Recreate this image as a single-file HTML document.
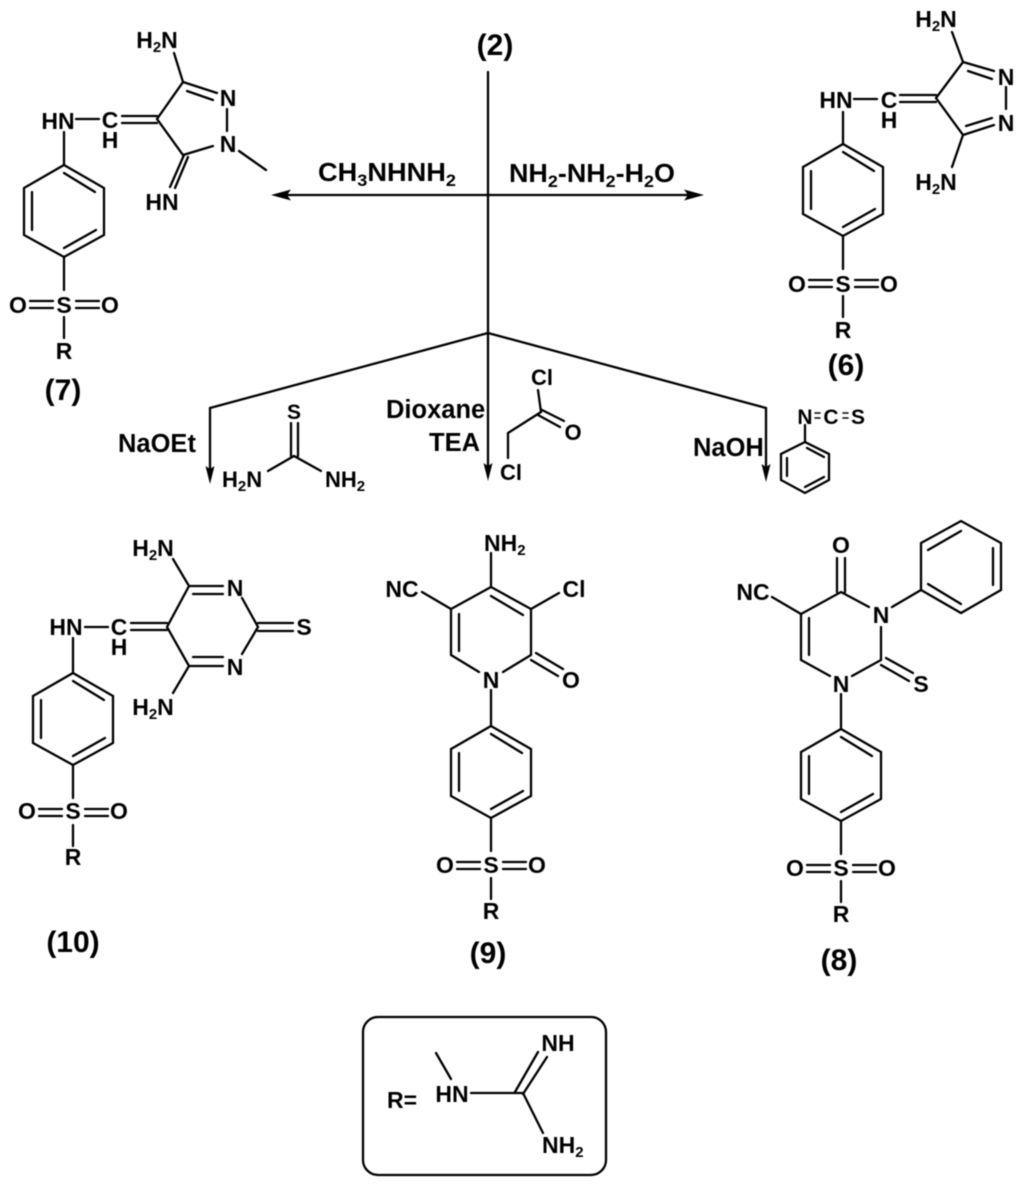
<!DOCTYPE html>
<html><head><meta charset="utf-8"><title>Reaction scheme</title>
<style>
html,body{margin:0;padding:0;background:#fff}
svg{display:block;filter:blur(0.4px)}
text{font-family:"Liberation Sans",sans-serif;font-weight:bold;fill:#000;font-size:23px}
.m{text-anchor:middle}
.l{font-size:25.500px}
.n{font-size:30px;text-anchor:middle}
.s{font-size:15px}
.t{font-size:21px}
.b{stroke:#000;stroke-width:2.300;fill:none;stroke-linecap:round;stroke-linejoin:miter}
</style></head><body>
<svg width="1024" height="1187" viewBox="0 0 1024 1187" xmlns="http://www.w3.org/2000/svg">
<defs>
<g id="tail" class="b">
<path d="M0 0L40 23V70L0 92L-40 70V23Z"/>
<path d="M0 8L31 27M-32 27V65M0 83L32 65"/>
<path d="M0 92V125M0 152V173"/>
<path d="M-34 136H-11M-34 143H-11M12 136H35M12 143H35"/>
</g>
</defs>

<!-- main arrows -->
<g class="b">
<path d="M488 72V470"/>
<path d="M285 195H690"/>
<path d="M488 333L210 408V470"/>
<path d="M488 333L766 408V468"/>
</g>
<g fill="#000">
<path d="M271 195L291 189.500L287 195L291 200.500Z"/>
<path d="M704 195L684 189.500L688 195L684 200.500Z"/>
<path d="M210 484L205.500 466L210 469L214.500 466Z"/>
<path d="M488 481L483.500 463L488 466L492.500 463Z"/>
<path d="M766 482L761.500 464L766 467L770.500 464Z"/>
</g>
<text class="n" x="495" y="55">(2)</text>
<text class="l" x="318" y="181" textLength="138" lengthAdjust="spacingAndGlyphs">CH<tspan font-size="17" dy="5">3</tspan><tspan dy="-5">NHNH</tspan><tspan font-size="17" dy="5">2</tspan></text>
<text class="l" x="509" y="182" textLength="166" lengthAdjust="spacingAndGlyphs">NH<tspan font-size="17" dy="5">2</tspan><tspan dy="-5">-NH</tspan><tspan font-size="17" dy="5">2</tspan><tspan dy="-5">-H</tspan><tspan font-size="17" dy="5">2</tspan><tspan dy="-5">O</tspan></text>
<text class="l" x="118" y="452">NaOEt</text>
<text class="l" x="386" y="418">Dioxane</text>
<text class="l" x="429" y="451">TEA</text>
<text class="l" x="693" y="456">NaOH</text>

<!-- compound 7 -->
<use href="#tail" x="64" y="165"/>
<g class="b">
<path d="M64 132V165M76 119H99M122 116H157M122 123H157"/>
<path d="M174 53L183 82L157 119L183 155L213 146M183 82L217 93M187 91L213 100M227 109V131"/>
<path d="M239 151L266 170M184 155L170 187M188 157L175 188"/>
</g>
<text class="m" x="157" y="48">H<tspan class="s" dy="4">2</tspan><tspan dy="-4">N</tspan></text>
<text class="m" x="228" y="106">N</text>
<text class="m" x="228" y="152">N</text>
<text class="m" x="162" y="210">HN</text>
<text class="m" x="58" y="129">HN</text>
<text class="m" x="110" y="128">C</text>
<text class="m" x="110" y="148">H</text>
<text class="m" x="64" y="313">S</text>
<text class="m" x="18" y="313">O</text>
<text class="m" x="110" y="313">O</text>
<text class="m" x="64" y="359">R</text>
<text class="n" x="63" y="400">(7)</text>

<!-- compound 6 -->
<use href="#tail" x="843" y="144"/>
<g class="b">
<path d="M843 112V144M854 99H877M900 95H936M900 102H936"/>
<path d="M952 32L963 62L936 98L963 135L952 167M963 62L994 71M968 71L992 79M963 135L994 125M966 126L992 118M1006 87V109"/>
</g>
<text class="m" x="936" y="27">H<tspan class="s" dy="4">2</tspan><tspan dy="-4">N</tspan></text>
<text class="m" x="936" y="190">H<tspan class="s" dy="4">2</tspan><tspan dy="-4">N</tspan></text>
<text class="m" x="1006" y="85">N</text>
<text class="m" x="1006" y="131">N</text>
<text class="m" x="836" y="108">HN</text>
<text class="m" x="889" y="108">C</text>
<text class="m" x="889" y="128">H</text>
<text class="m" x="843" y="292">S</text>
<text class="m" x="797" y="292">O</text>
<text class="m" x="889" y="292">O</text>
<text class="m" x="843" y="338">R</text>
<text class="n" x="846" y="375">(6)</text>

<!-- thiourea -->
<g class="b">
<path d="M291 423V456M298 423V456M268 471L294 456L321 471"/>
</g>
<text class="m t" x="294" y="419">S</text>
<text x="222" y="487" style="font-size:22px">H<tspan class="s" dy="4">2</tspan><tspan dy="-4">N</tspan></text>
<text x="325" y="487" style="font-size:22px">NH<tspan class="s" dy="4">2</tspan></text>

<!-- chloroacetyl chloride -->
<g class="b">
<path d="M538 390L541 412L508 433V458M542 410L564 421M538 415L560 427"/>
</g>
<text class="m" style="font-size:22px" x="542" y="385">Cl</text>
<text class="m" style="font-size:22px" x="573" y="440">O</text>
<text class="m" style="font-size:22px" x="511" y="480">Cl</text>

<!-- phenyl isothiocyanate -->
<g class="b">
<path d="M805 425V442L829 454V480L805 493L781 480V454L805 442M807 448L824 457M787 458V476M805 487L824 477"/>
<path stroke-width="1.500" d="M815 413H820M815 418H820M843 413H848M843 418H848"/>
</g>
<text class="m t" x="805" y="424">N</text>
<text class="m t" x="831" y="424">C</text>
<text class="m t" x="858" y="424">S</text>

<!-- compound 10 -->
<use href="#tail" x="73" y="673"/>
<g class="b">
<path d="M73 638V673M85 627H108M131 623H167M131 630H167"/>
<path d="M173 559L189 586L167 627L189 666L173 693M189 586H223M193 594H223M189 666H223M193 657H223"/>
<path d="M242 598L258 627L242 654M258 623H293M258 631H293"/>
</g>
<text class="m" x="153" y="556">H<tspan class="s" dy="4">2</tspan><tspan dy="-4">N</tspan></text>
<text class="m" x="153" y="715">H<tspan class="s" dy="4">2</tspan><tspan dy="-4">N</tspan></text>
<text class="m" x="235" y="596">N</text>
<text class="m" x="235" y="675">N</text>
<text class="m" x="304" y="635">S</text>
<text class="m" x="66" y="635">HN</text>
<text class="m" x="119" y="635">C</text>
<text class="m" x="119" y="655">H</text>
<text class="m" x="73" y="819">S</text>
<text class="m" x="27" y="819">O</text>
<text class="m" x="119" y="819">O</text>
<text class="m" x="73" y="865">R</text>
<text class="n" x="73" y="952">(10)</text>

<!-- compound 9 -->
<use href="#tail" x="491" y="726"/>
<g class="b">
<path d="M491 553V587L531 609V655L503 672M491 587L451 609V655L479 672"/>
<path d="M491 596L523 615M459 614V651M536 653L563 669M531 660L558 676M531 609L559 593M451 609L422 592M491 690V726"/>
</g>
<text x="484" y="551">NH<tspan class="s" dy="4">2</tspan></text>
<text class="m" x="402" y="597">NC</text>
<text class="m" x="574" y="597">Cl</text>
<text class="m" x="491" y="688">N</text>
<text class="m" x="571" y="688">O</text>
<text class="m" x="491" y="873">S</text>
<text class="m" x="445" y="873">O</text>
<text class="m" x="537" y="873">O</text>
<text class="m" x="491" y="919">R</text>
<text class="n" x="488" y="963">(9)</text>

<!-- compound 8 -->
<use href="#tail" x="841" y="729"/>
<g class="b">
<path d="M837 558V592M845 558V592M869 607L841 592L801 614V660L830 676M881 627V660L852 676M809 618V655M801 614L772 597"/>
<path d="M886 658L913 673M881 665L909 681M841 694V729M892 607L921 590"/>
<path d="M921 590V543L961 521L1001 543V590L961 613ZM928 550L961 531M993 548V585M928 584L961 604"/>
</g>
<text class="m" x="841" y="553">O</text>
<text class="m" x="753" y="600">NC</text>
<text class="m" x="881" y="623">N</text>
<text class="m" x="841" y="692">N</text>
<text class="m" x="921" y="692">S</text>
<text class="m" x="841" y="876">S</text>
<text class="m" x="795" y="876">O</text>
<text class="m" x="887" y="876">O</text>
<text class="m" x="841" y="922">R</text>
<text class="n" x="839" y="970">(8)</text>

<!-- R box -->
<rect class="b" x="363" y="1017" width="243" height="158" rx="15" ry="15"/>
<g class="b">
<path d="M436 1053L451 1079M471 1093H523L543 1133M515 1092L538 1052M523 1094L547 1057"/>
</g>
<text x="387" y="1108">R=</text>
<text class="m" x="452" y="1102">HN</text>
<text class="m" x="558" y="1051">NH</text>
<text x="542" y="1153">NH<tspan class="s" dy="4">2</tspan></text>
</svg>
</body></html>
